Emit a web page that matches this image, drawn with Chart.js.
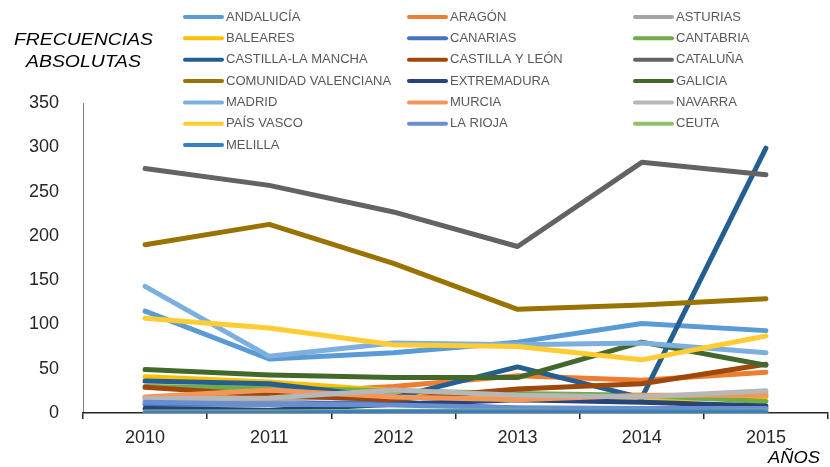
<!DOCTYPE html>
<html>
<head>
<meta charset="utf-8">
<script src="https://cdn.jsdelivr.net/npm/chart.js@4.4.1/dist/chart.umd.min.js"></script>
<style>
    body { margin: 0; background: #fff; }
    #contenedor { width: 830px; height: 467px; position: relative; }
</style>
</head>
<body>
<div id="contenedor"><canvas id="graficoFrecuencias"></canvas></div>
<script>
const anios = ['2010', '2011', '2012', '2013', '2014', '2015'];
const marcasY = [0, 50, 100, 150, 200, 250, 300, 350];

const comunidades = [
    'ANDALUCÍA', 'ARAGÓN', 'ASTURIAS',
    'BALEARES', 'CANARIAS', 'CANTABRIA',
    'CASTILLA-LA MANCHA', 'CASTILLA Y LEÓN', 'CATALUÑA',
    'COMUNIDAD VALENCIANA', 'EXTREMADURA', 'GALICIA',
    'MADRID', 'MURCIA', 'NAVARRA',
    'PAÍS VASCO', 'LA RIOJA', 'CEUTA',
    'MELILLA'
];

const andalucia = [115, 61, 68, 80, 101, 93];
const aragon = [17, 22, 30, 42, 37, 46];
const asturias = [15, 15, 20, 15, 15, 22];
const baleares = [41, 35, 25, 18, 15, 18];
const canarias = [10, 10, 12, 5, 3, 6];
const cantabria = [30, 28, 25, 22, 20, 13];
const castillaLaMancha = [36, 33, 17, 52, 17, 299];
const castillaLeon = [29, 20, 15, 27, 33, 55];
const cataluna = [276, 257, 227, 188, 283, 269];
const comunidadValenciana = [190, 213, 169, 117, 122, 129];
const extremadura = [5, 3, 10, 15, 12, 8];
const galicia = [49, 43, 40, 40, 80, 54];
const madrid = [143, 64, 79, 77, 79, 68];
const murcia = [18, 26, 18, 15, 20, 20];
const navarra = [16, 17, 26, 20, 18, 25];
const paisVasco = [107, 96, 77, 75, 60, 87];
const laRioja = [12, 10, 9, 6, 5, 5];
const ceuta = [1, 1, 2, 2, 1, 2];
const melilla = [0, 0, 1, 1, 1, 1];

const series = [
    andalucia, aragon, asturias, baleares, canarias, cantabria,
    castillaLaMancha, castillaLeon, cataluna, comunidadValenciana,
    extremadura, galicia, madrid, murcia, navarra, paisVasco,
    laRioja, ceuta, melilla
];

const colores = [
    '#5B9BD5', '#ED7D31', '#A5A5A5',
    '#FFC000', '#4472C4', '#70AD47',
    '#255E91', '#9E480E', '#636363',
    '#997300', '#264478', '#43682B',
    '#7CAFDD', '#F1975A', '#B7B7B7',
    '#FFCD33', '#698ED0', '#8CC168',
    '#3A7EC4'
];

const FUENTE = '"Liberation Sans", Arial, sans-serif';

// leyenda en tres columnas y textos de los ejes, dibujados a mano
const pluginLeyenda = {
    id: 'leyendaColumnas',
    afterDraw(chart) {
        const ctx = chart.ctx;
        const columnas = [183, 407, 633];
        ctx.save();
        ctx.font = '13px ' + FUENTE;
        ctx.textBaseline = 'middle';
        ctx.lineCap = 'round';
        ctx.lineWidth = 4;
        comunidades.forEach((nombre, i) => {
            const x = columnas[i % 3];
            const y = 17 + Math.floor(i / 3) * 21.35;
            ctx.strokeStyle = colores[i];
            ctx.beginPath();
            ctx.moveTo(x + 2, y);
            ctx.lineTo(x + 39, y);
            ctx.stroke();
            ctx.fillStyle = '#595959';
            ctx.fillText(nombre, x + 43, y);
        });

        ctx.fillStyle = '#000';
        ctx.font = 'italic 17px ' + FUENTE;
        escribirAjustado(ctx, 'FRECUENCIAS', 14, 40, 139);
        escribirAjustado(ctx, 'ABSOLUTAS', 26, 62, 115);
        escribirAjustado(ctx, 'AÑOS', 768, 458, 52);
        ctx.restore();
    }
};

function escribirAjustado(ctx, texto, x, y, ancho) {
    const medida = ctx.measureText(texto).width;
    ctx.save();
    ctx.translate(x, y);
    ctx.scale(ancho / medida, 1);
    ctx.textBaseline = 'middle';
    ctx.fillText(texto, 0, 0);
    ctx.restore();
}

function renderizarGrafica() {
    const ctx = document.getElementById('graficoFrecuencias').getContext('2d');
    const n = series.length;

    new Chart(ctx, {
        type: 'line',
        data: {
            labels: anios,
            datasets: series.map((valores, i) => ({
                label: comunidades[i],
                data: valores,
                borderColor: colores[i],
                backgroundColor: colores[i],
                borderWidth: 5,
                borderCapStyle: 'round',
                borderJoinStyle: 'round',
                pointRadius: 0,
                tension: 0,
                order: n - i
            }))
        },
        options: {
            responsive: true,
            maintainAspectRatio: false,
            animation: false,
            layout: {
                padding: { top: 103, right: 2, left: 0, bottom: 0 }
            },
            plugins: {
                legend: { display: false },
                tooltip: { enabled: false }
            },
            scales: {
                y: {
                    min: 0,
                    max: 350,
                    afterBuildTicks: (escala) => {
                        escala.ticks = marcasY.map(v => ({ value: v }));
                    },
                    afterFit: (escala) => { escala.width = 83; },
                    ticks: {
                        padding: 16,
                        font: { family: FUENTE, size: 18 },
                        color: '#262626'
                    },
                    grid: { display: false },
                    border: { display: true, color: '#808080', width: 1 }
                },
                x: {
                    offset: true,
                    afterFit: (escala) => { escala.height = 54; },
                    grid: {
                        offset: true,
                        drawOnChartArea: false,
                        drawTicks: true,
                        tickLength: 6,
                        color: '#262626',
                        lineWidth: 1.5
                    },
                    border: { display: true, color: '#262626', width: 1.5 },
                    ticks: {
                        padding: 8,
                        font: { family: FUENTE, size: 18 },
                        color: '#262626'
                    }
                }
            }
        },
        plugins: [pluginLeyenda]
    });
}

renderizarGrafica();
</script>
</body>
</html>
